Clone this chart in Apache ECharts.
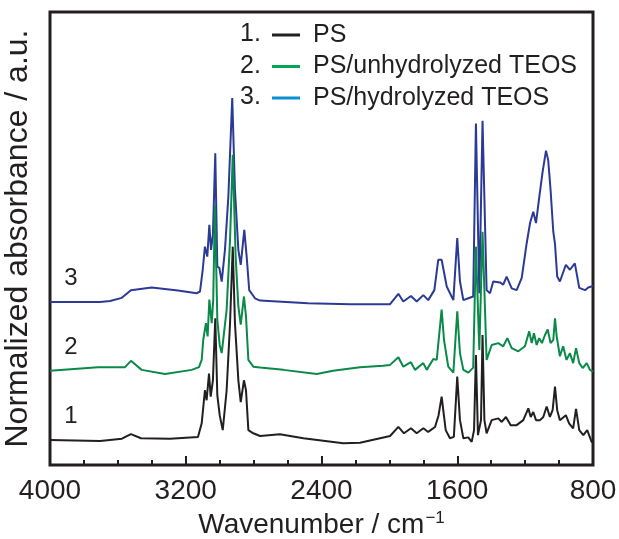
<!DOCTYPE html>
<html>
<head>
<meta charset="utf-8">
<script src="https://cdn.jsdelivr.net/npm/echarts@6/dist/echarts.min.js"></script>
<style>html,body{margin:0;padding:0;background:#fff}#c{width:619px;height:539px}</style>
</head>
<body>
<div id="c"></div>
<script>
// Series names and legend colours
const seriesNames = ['PS', 'PS/unhydrolyzed TEOS', 'PS/hydrolyzed TEOS'];
const lineColors = ['#231f20', '#0a8a48', '#2b3a97'];
const legendColors = ['#231f20', '#00a651', '#0a8fd0'];
// vertical offsets of the stacked spectra (a.u.)
const offsets = [0.55, 2.08, 3.6];
const xTicks = [800, 1600, 2400, 3200, 4000];

// Spectrum 1: PS
const ps_wn  = [4000,3705,3576,3523,3464,3293,3128,3106,3087,3077,3063,3053,3040,3026,3014,3000,2982,2959,2939,2923,2910,2890,2876,2857,2845,2831,2802,2762,2645,2507,2272,2173,1996,1947,1914,1873,1839,1800,1771,1731,1710,1692,1668,1643,1620,1600,1584,1564,1535,1515,1501,1490,1478,1470,1460,1451,1440,1427,1397,1358,1338,1313,1285,1250,1211,1181,1167,1152,1136,1112,1093,1073,1054,1038,1024,1011,995,960,941,917,900,881,857,834,808,800];
const ps_abs = [0,-0.02,0.03,0.13,0.04,0.03,0.07,0.37,1.10,0.88,1.47,0.96,1.32,2.69,0.99,0.55,0.22,1.10,2.58,4.27,2.58,1.32,0.84,1.32,1.10,0.22,0.15,0.09,0.13,0.04,-0.07,-0.06,0.09,0.29,0.15,0.26,0.15,0.26,0.18,0.29,0.55,0.96,0.22,0.04,0.07,1.40,0.44,0.04,0.06,-0.04,0.22,1.88,0.11,0.09,0.44,2.32,0.44,0.15,0.44,0.48,0.40,0.51,0.33,0.33,0.44,0.70,0.51,0.62,0.44,0.44,0.51,0.74,0.51,0.66,1.18,0.66,0.44,0.55,0.37,0.26,0.69,0.22,0.11,0.22,-0.04,-0.04];

// Spectrum 2: PS/unhydrolyzed TEOS
const un_wn  = [4000,3717,3558,3523,3460,3322,3165,3122,3106,3097,3081,3071,3061,3047,3038,3028,3014,3000,2988,2959,2939,2923,2906,2890,2876,2857,2845,2831,2802,2762,2625,2428,2332,2173,2038,1996,1947,1918,1873,1849,1800,1780,1741,1721,1692,1678,1653,1623,1600,1584,1564,1535,1506,1490,1470,1451,1427,1397,1358,1329,1305,1279,1240,1201,1176,1161,1148,1132,1117,1101,1083,1067,1050,1034,1024,1014,995,976,956,936,917,900,881,861,837,818,800];
const un_abs = [0,0.08,0.08,0.22,0.02,-0.07,0.02,0.08,0.24,0.68,1.05,0.76,1.57,1.05,1.57,3.66,1.13,0.57,0.39,1.35,2.89,4.77,2.52,1.42,1.02,1.64,1.20,0.24,0.09,0.07,0.02,-0.07,0,0.08,0.11,0.13,0.30,0.09,0.19,0.02,0.17,0.02,0.26,0.24,1.35,0.68,0.09,-0.04,1.31,0.39,0.02,-0.04,0.07,2.74,0.46,3.07,0.24,0.57,0.61,0.54,0.72,0.50,0.43,0.54,0.87,0.61,0.83,0.57,0.72,0.61,0.79,0.91,0.61,0.68,1.16,0.76,0.32,0.54,0.24,0.39,0.17,0.50,0.17,0.06,0.17,0.02,-0.02];

// Spectrum 3: PS/hydrolyzed TEOS
const hy_wn  = [4000,3705,3646,3577,3523,3401,3246,3136,3116,3100,3087,3073,3061,3051,3040,3026,3014,3002,2988,2969,2949,2926,2910,2890,2876,2855,2841,2826,2792,2762,2480,2232,1996,1947,1918,1873,1839,1800,1771,1735,1712,1692,1662,1623,1600,1584,1564,1535,1506,1490,1470,1451,1427,1407,1388,1348,1329,1309,1279,1250,1220,1191,1171,1152,1136,1117,1097,1077,1064,1050,1034,1024,1011,995,960,936,907,881,847,828,800];
const hy_abs = [0,0,0.02,0.09,0.26,0.32,0.25,0.19,0.23,0.71,1.22,1.00,1.70,1.15,1.48,3.28,0.78,0.75,0.45,1.15,2.32,4.50,2.47,1.15,0.82,1.59,1.00,0.26,0.08,0.03,-0.03,-0.05,-0.05,0.18,0.01,0.13,0.01,0.15,0.04,0.26,0.93,0.93,0.34,0.04,1.41,0.45,0.04,0.08,0.12,3.94,0.19,4.00,0.26,0.19,0.45,0.43,0.38,0.56,0.30,0.26,0.53,1.29,1.74,1.99,1.74,2.30,2.87,3.34,3.13,2.47,1.55,1.28,0.56,0.45,0.82,0.71,0.85,0.31,0.26,0.32,0.35];

const spectra = [[ps_wn, ps_abs], [un_wn, un_abs], [hy_wn, hy_abs]];
const curveLabels = ['1', '2', '3'];
const legendNums = ['1.', '2.', '3.'];

const FONT = '"Liberation Sans", Arial, sans-serif';
const TXT = '#231f20';

const chart = echarts.init(document.getElementById('c'), null, {renderer: 'canvas'});

const series = spectra.map((s, i) => ({
  name: seriesNames[i],
  type: 'line',
  showSymbol: false,
  symbol: 'none',
  animation: false,
  z: 5 - i,
  lineStyle: {color: lineColors[i], width: 2},
  itemStyle: {color: lineColors[i]},
  data: s[0].map((w, k) => [w, +(s[1][k] + offsets[i]).toFixed(3)])
}));

const option = {
  animation: false,
  backgroundColor: '#fff',
  grid: {left: 50, right: 26, top: 12, bottom: 74, containLabel: false, outerBoundsMode: 'none',
         show: true, borderColor: TXT, borderWidth: 3, backgroundColor: 'transparent'},
  legend: {
    orient: 'vertical', left: 272, top: 22, padding: 0, itemWidth: 28, itemHeight: 3, itemGap: 5.5,
    icon: 'rect',
    selectedMode: false,
    textStyle: {fontSize: 25, lineHeight: 26, color: TXT, fontFamily: FONT, padding: [0, 0, 0, 8]},
    data: seriesNames.map((n, i) => ({name: n, itemStyle: {color: legendColors[i]}}))
  },
  xAxis: {
    type: 'value', inverse: true, min: 800, max: 4000, interval: 800,
    axisLine: {show: false},
    axisTick: {show: true, inside: true, length: 9, lineStyle: {color: TXT, width: 2}},
    minorTick: {show: true, splitNumber: 4, length: 5, lineStyle: {color: TXT, width: 2}},
    splitLine: {show: false},
    axisLabel: {fontSize: 28, color: TXT, fontFamily: FONT, margin: 12, formatter: v => String(v)},
    name: '{a|Wavenumber / cm}{s|−1}',
    nameLocation: 'middle', nameGap: 42,
    nameTextStyle: {
      color: TXT, fontFamily: FONT, fontSize: 28,
      rich: {
        a: {fontSize: 28, color: TXT, fontFamily: FONT, lineHeight: 30},
        s: {fontSize: 17, color: TXT, fontFamily: FONT, verticalAlign: 'top', lineHeight: 30, padding: [0, 0, 12, 1]}
      }
    }
  },
  yAxis: {
    type: 'value', min: 0, max: 10,
    axisLine: {show: false}, axisTick: {show: false}, axisLabel: {show: false}, splitLine: {show: false},
    name: 'Normalized absorbance / a.u.', nameLocation: 'middle', nameGap: 16,
    nameTextStyle: {fontSize: 32, color: TXT, fontFamily: FONT}
  },
  series: series
};
chart.setOption(option);

// numbers in front of legend items and curve labels
const gfx = [];
legendNums.forEach((t, i) => {
  gfx.push({type: 'text', left: 240, top: 22 + i * 31.5, style: {text: t, fontSize: 25, fill: TXT, fontFamily: FONT}});
});
curveLabels.forEach((t, i) => {
  const p = chart.convertToPixel({gridIndex: 0}, [3876, offsets[i] + 0.52]);
  gfx.push({type: 'text', x: p[0], y: p[1], style: {text: t, fontSize: 24, fill: TXT, fontFamily: FONT, align: 'center', verticalAlign: 'middle'}});
});
chart.setOption({graphic: gfx});
</script>
</body>
</html>
